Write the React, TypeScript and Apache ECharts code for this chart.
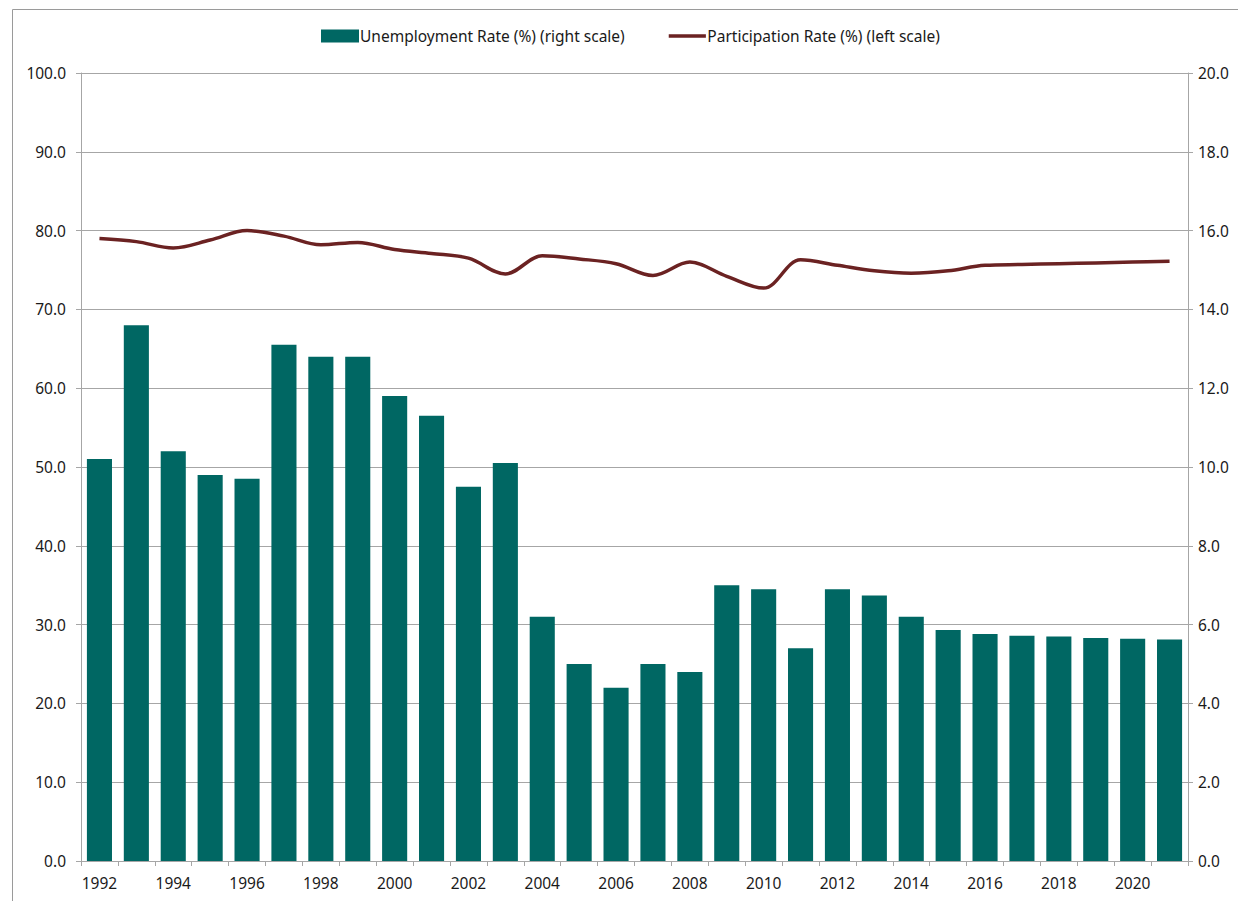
import React, { useEffect, useRef } from "react";
import * as echarts from "echarts";

const years: string[] = [
  "1992", "1993", "1994", "1995", "1996", "1997", "1998", "1999", "2000", "2001",
  "2002", "2003", "2004", "2005", "2006", "2007", "2008", "2009", "2010", "2011",
  "2012", "2013", "2014", "2015", "2016", "2017", "2018", "2019", "2020", "2021",
];

const unemploymentRate: number[] = [
  10.2, 13.6, 10.4, 9.8, 9.7, 13.1, 12.8, 12.8, 11.8, 11.3,
  9.5, 10.1, 6.2, 5.0, 4.4, 5.0, 4.8, 7.0, 6.9, 5.4,
  6.9, 6.74, 6.2, 5.86, 5.76, 5.72, 5.7, 5.66, 5.64, 5.62,
];

const participationRate: number[] = [
  79.0, 78.6, 77.8, 78.8, 80.0, 79.3, 78.2, 78.5, 77.6, 77.1,
  76.5, 74.5, 76.8, 76.4, 75.8, 74.3, 76.0, 74.2, 72.7, 76.3,
  75.6, 74.9, 74.6, 74.9, 75.6, 75.7, 75.8, 75.9, 76.0, 76.1,
];

const FONT = "'Noto Sans', sans-serif";
const LINE_ICON = "path://M0,0 L0.01,0 M0,5 L40,5 L40,9 L0,9 Z M40,14 L40.01,14";

export default function App() {
  const ref = useRef<HTMLDivElement>(null);
  useEffect(() => {
    if (!ref.current) return;
    const chart = echarts.init(ref.current, undefined, { renderer: "svg" });
    chart.setOption({
      animation: false,
      backgroundColor: "#ffffff",
      textStyle: { fontFamily: FONT },
      graphic: [
        {
          type: "rect",
          shape: { x: 12.5, y: 9.5, width: 1300, height: 1000 },
          style: { fill: "none", stroke: "#9a9a9a", lineWidth: 1 },
          silent: true,
        },
      ],
      legend: {
        top: 23,
        left: 316,
        itemGap: 44,
        textStyle: { fontSize: 15.5, color: "#1a1a1a", fontFamily: FONT, padding: [0, 0, 0, -4] },
        data: [
          {
            name: "Unemployment Rate (%) (right scale)",
            icon: "rect",
            itemStyle: { color: "#006763" },
          },
          {
            name: "Participation Rate (%) (left scale)",
            icon: LINE_ICON,
            itemStyle: { color: "#6B2222" },
          },
        ],
        itemWidth: 38,
        itemHeight: 13,
      },
      grid: { left: 81, right: 50, top: 73, bottom: 40, containLabel: false },
      xAxis: {
        type: "category",
        data: years,
        boundaryGap: true,
        axisLine: { lineStyle: { color: "#a6a6a6", width: 1 } },
        axisTick: { show: true, alignWithLabel: false, interval: 0, length: 5, lineStyle: { color: "#a6a6a6" } },
        axisLabel: { interval: 1, fontSize: 15.5, color: "#1a1a1a", margin: 14, fontFamily: FONT },
      },
      yAxis: [
        {
          type: "value",
          min: 0,
          max: 100,
          interval: 10,
          position: "left",
          axisLine: { show: true, lineStyle: { color: "#a6a6a6" } },
          axisTick: { show: true, length: 5, lineStyle: { color: "#a6a6a6" } },
          axisLabel: { formatter: (v: number) => v.toFixed(1), fontSize: 15.5, color: "#1a1a1a", margin: 15, fontFamily: FONT },
          splitLine: { show: true, lineStyle: { color: "#a6a6a6", width: 1 } },
        },
        {
          type: "value",
          min: 0,
          max: 20,
          interval: 2,
          position: "right",
          axisLine: { show: true, lineStyle: { color: "#a6a6a6" } },
          axisTick: { show: true, length: 5, lineStyle: { color: "#a6a6a6" } },
          axisLabel: { formatter: (v: number) => v.toFixed(1), fontSize: 15.5, color: "#1a1a1a", margin: 10, fontFamily: FONT },
          splitLine: { show: false },
        },
      ],
      series: [
        {
          name: "Unemployment Rate (%) (right scale)",
          type: "bar",
          yAxisIndex: 1,
          data: unemploymentRate,
          barWidth: "68%",
          itemStyle: { color: "#006763" },
        },
        {
          name: "Participation Rate (%) (left scale)",
          type: "line",
          yAxisIndex: 0,
          data: participationRate,
          smooth: 0.35,
          showSymbol: false,
          symbol: "none",
          lineStyle: { color: "#6B2222", width: 3.5 },
          itemStyle: { color: "#6B2222" },
        },
      ],
    });
    return () => chart.dispose();
  }, []);
  return (
    <div
      ref={ref}
      style={{ position: "absolute", left: 0, top: 0, width: 1238, height: 901 }}
    />
  );
}
